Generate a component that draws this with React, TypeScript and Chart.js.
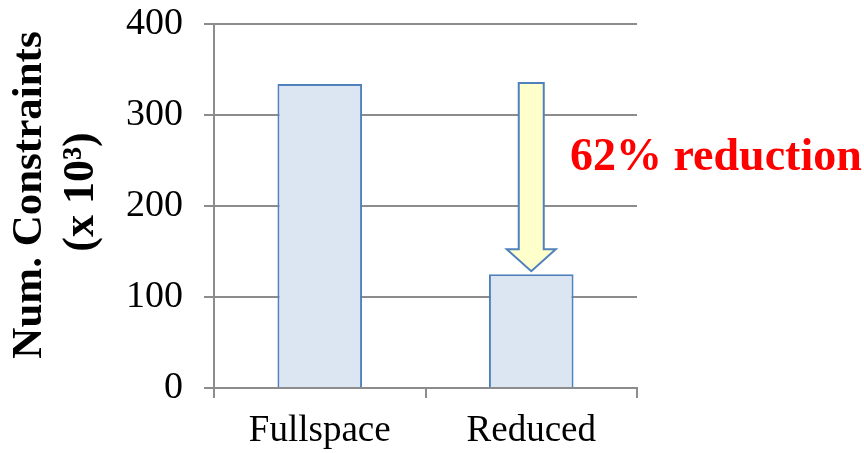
import React, { useEffect, useRef } from "react";
import { Chart, registerables } from "chart.js";

Chart.register(...registerables);

const categories = ["Fullspace", "Reduced"];
const constraintValues = [334, 125];
const yTicks = [0, 100, 200, 300, 400];
const yTitleLines = ["Num. Constraints", "(x 10\u00B3)"];
const annotationText = "62% reduction";

const SERIF = "'Liberation Serif', 'Times New Roman', serif";

export default function App() {
  const ref = useRef<HTMLCanvasElement | null>(null);

  useEffect(() => {
    if (!ref.current) return;

    const overlay = {
      id: "overlay",
      afterDatasetsDraw(chart: any) {
        const ctx = chart.ctx;
        const meta = chart.getDatasetMeta(0);
        const y = chart.scales.y;
        const reducedBar = meta.data[1];
        const cx = reducedBar.x;
        const yTop = y.getPixelForValue(constraintValues[0]) - 1;
        const yTip = y.getPixelForValue(constraintValues[1]) - 3;
        const shaftHalf = 12.5;
        const headHalf = 24.5;
        const headLen = 22;
        ctx.save();
        ctx.beginPath();
        ctx.moveTo(cx - shaftHalf, yTop);
        ctx.lineTo(cx + shaftHalf, yTop);
        ctx.lineTo(cx + shaftHalf, yTip - headLen);
        ctx.lineTo(cx + headHalf, yTip - headLen);
        ctx.lineTo(cx, yTip);
        ctx.lineTo(cx - headHalf, yTip - headLen);
        ctx.lineTo(cx - shaftHalf, yTip - headLen);
        ctx.closePath();
        ctx.fillStyle = "#FFFFCC";
        ctx.fill();
        ctx.strokeStyle = "#4F81BD";
        ctx.lineWidth = 2;
        ctx.stroke();

        ctx.fillStyle = "#FF0000";
        ctx.font = `bold 46px ${SERIF}`;
        ctx.textAlign = "left";
        ctx.textBaseline = "alphabetic";
        ctx.fillText(annotationText, 570, 170);

        // y axis title
        ctx.fillStyle = "#000000";
        ctx.textAlign = "center";
        ctx.textBaseline = "middle";
        const xs = [30, 82];
        const ys = [195, 192];
        const sizes = [43, 44];
        yTitleLines.forEach((line, i) => {
          ctx.save();
          ctx.font = `bold ${sizes[i]}px ${SERIF}`;
          ctx.translate(xs[i], ys[i]);
          ctx.rotate(-Math.PI / 2);
          ctx.fillText(line, 0, 0);
          ctx.restore();
        });
        ctx.restore();
      },
    };

    const chart = new Chart(ref.current, {
      type: "bar",
      data: {
        labels: categories,
        datasets: [
          {
            data: constraintValues,
            backgroundColor: "#DCE6F2",
            borderColor: "#4F81BD",
            borderWidth: 2,
            categoryPercentage: 1,
            barPercentage: 0.4,
          },
        ],
      },
      options: {
        responsive: false,
        animation: false,
        layout: { padding: { top: 24, right: 227, left: 0, bottom: 0 } },
        plugins: { legend: { display: false }, tooltip: { enabled: false } },
        scales: {
          x: {
            offset: true,
            grid: {
              offset: true,
              drawOnChartArea: false,
              drawTicks: true,
              tickLength: 10,
              color: "#8C8C8C",
              lineWidth: 2,
            },
            border: { color: "#8C8C8C", width: 2 },
            ticks: {
              color: "#000000",
              font: { family: SERIF, size: 37 },
              padding: 11,
              maxRotation: 0,
            },
            afterFit(scale: any) {
              scale.height = 65;
              scale.paddingLeft = 0;
              scale.paddingRight = 0;
            },
          },
          y: {
            min: 0,
            max: 400,
            afterBuildTicks(scale: any) {
              scale.ticks = yTicks.map((v) => ({ value: v }));
            },
            grid: {
              color: "#8C8C8C",
              lineWidth: 2,
              tickLength: 10,
            },
            border: { color: "#8C8C8C", width: 2 },
            ticks: {
              color: "#000000",
              font: { family: SERIF, size: 38 },
              padding: 21,
            },
            afterFit(scale: any) {
              scale.width = 214;
              scale.paddingTop = 0;
              scale.paddingBottom = 0;
            },
          },
        },
      },
      plugins: [overlay],
    });
    return () => chart.destroy();
  }, []);

  return (
    <div style={{ position: "fixed", left: 0, top: 0, width: 864, height: 453, background: "#fff" }}>
      <canvas ref={ref} width={864} height={453} style={{ width: 864, height: 453 }} />
    </div>
  );
}
